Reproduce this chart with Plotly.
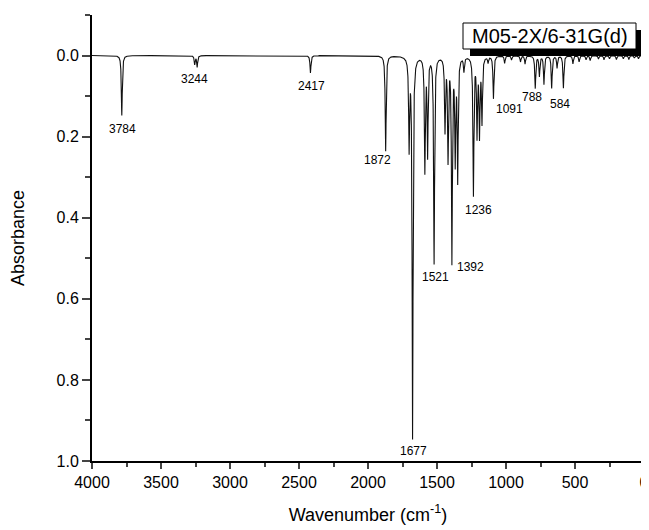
import numpy as np
import plotly.graph_objects as go

# Peak positions (cm-1) and depths (absorbance)
peak_pos = [3784, 3256, 3238, 2417, 1872, 1702, 1677, 1588, 1568, 1521, 1442, 1420,
            1392, 1368, 1350, 1305, 1236, 1210, 1192, 1174, 1130, 1091, 1010, 960,
            895, 862, 788, 758, 725, 669, 630, 584, 515, 470, 420, 390, 330, 290,
            250, 200, 150, 110, 70, 40]
peak_int = [0.148, 0.022, 0.028, 0.043, 0.235, 0.22, 0.94, 0.28, 0.24, 0.51, 0.18, 0.25,
            0.50, 0.25, 0.30, 0.035, 0.34, 0.19, 0.19, 0.16, 0.015, 0.105, 0.018, 0.01,
            0.015, 0.02, 0.08, 0.05, 0.07, 0.08, 0.03, 0.08, 0.02, 0.015, 0.01, 0.012,
            0.008, 0.01, 0.008, 0.01, 0.008, 0.01, 0.006, 0.008]
hwhm = 4.0  # Lorentzian half width (cm-1)

# Peak labels: text, label x (cm-1), label y (absorbance)
label_text = ["3784", "3244", "2417", "1872", "1677", "1521", "1392", "1236", "1091", "788", "584"]
label_x = [3778, 3254, 2413, 1932, 1667, 1514, 1256, 1201, 978, 814, 609]
label_y = [0.182, 0.058, 0.076, 0.258, 0.975, 0.546, 0.521, 0.381, 0.132, 0.102, 0.12]

x_ticks = [4000, 3500, 3000, 2500, 2000, 1500, 1000, 500, 0]
y_ticks = [0.0, 0.2, 0.4, 0.6, 0.8, 1.0]
series_name = "M05-2X/6-31G(d)"

wn = np.arange(4000, -0.5, -0.5)
absorb = np.zeros_like(wn)
for p, a in zip(peak_pos, peak_int):
    absorb += a / (1.0 + ((wn - p) / hwhm) ** 2)

FONT = "Arial, Liberation Sans, sans-serif"
OFF = 8  # page body margin
W, H = 649 - OFF, 530 - OFF
PL, PR, PT, PB = 92, 644, 15, 461  # plot area in page pixels
L, T = PL - OFF, PT - OFF
R = W - (PR - OFF)
B = H - (PB - OFF)

def px(xp):
    return (xp - PL) / (PR - PL)

def py(yp):
    return (PB - yp) / (PB - PT)

fig = go.Figure()
fig.add_trace(go.Scatter(x=wn, y=absorb, mode="lines",
                         line=dict(color="#111111", width=1.1), name=series_name,
                         showlegend=False, hoverinfo="skip"))

for t, lx, ly in zip(label_text, label_x, label_y):
    fig.add_annotation(x=lx, y=ly, text=t, showarrow=False, xanchor="center",
                       yanchor="middle", font=dict(family=FONT, size=12, color="black"))

# legend box with drop shadow: black block offset right/down, white framed box on top
fig.add_shape(type="rect", xref="paper", yref="paper",
              x0=px(470), x1=px(643), y0=py(56), y1=py(30),
              fillcolor="black", line=dict(color="black", width=0), layer="above")
fig.add_shape(type="rect", xref="paper", yref="paper",
              x0=px(463), x1=px(636), y0=py(49), y1=py(23),
              fillcolor="white", line=dict(color="black", width=1), layer="above")
fig.add_annotation(xref="paper", yref="paper", x=px(549.5), y=py(36),
                   text=series_name, showarrow=False, xanchor="center", yanchor="middle",
                   font=dict(family=FONT, size=20, color="black"))

fig.update_layout(
    width=W, height=H, margin=dict(l=L, r=R, t=T, b=B, autoexpand=False),
    paper_bgcolor="white", plot_bgcolor="white",
    font=dict(family=FONT, color="black"),
    xaxis=dict(range=[4000, 0], tickvals=x_ticks, ticks="outside", ticklen=6, tickwidth=2,
               showline=True, linecolor="black", linewidth=2, showgrid=False, zeroline=False,
               automargin=False,
               tickfont=dict(size=16), minor=dict(dtick=250, ticks="outside", ticklen=4,
                                                  tickwidth=2, showgrid=False),
               title=dict(text="Wavenumber (cm<sup>-1</sup>)", font=dict(size=18), standoff=18)),
    yaxis=dict(range=[1.0, -0.1], tickvals=y_ticks, tickformat=".1f", ticks="outside",
               ticklen=8, tickwidth=2, showline=True, linecolor="black", linewidth=2,
               showgrid=False, zeroline=False, tickfont=dict(size=16), automargin=False,
               minor=dict(dtick=0.1, ticks="outside", ticklen=5, tickwidth=2, showgrid=False),
               title=dict(text="Absorbance", font=dict(size=18), standoff=27)),
)

fig.write_html("out.html")
